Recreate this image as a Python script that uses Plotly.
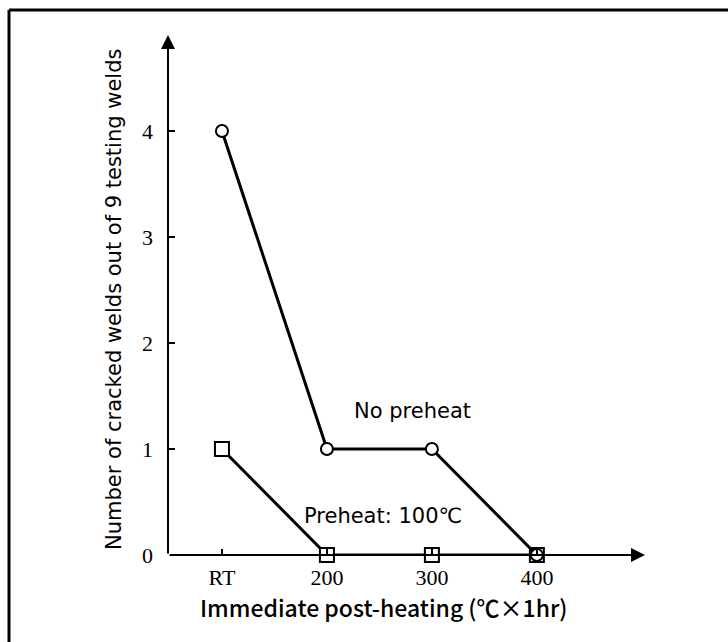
import plotly.graph_objects as go

# Post-heating conditions and crack counts (out of 9 welds)
categories = ["RT", "200", "300", "400"]
no_preheat = [4, 1, 1, 0]
preheat_100 = [1, 0, 0, 0]
y_ticks = [0, 1, 2, 3, 4]

W, H = 728, 642
L, R, T, B = 168, 83, 35, 87
plot_w = W - L - R
plot_h = H - T - B


def px_x(px):
    return (px - L) / plot_w


def px_y(py):
    return 1 - (py - T) / plot_h


x_pos = list(range(len(categories)))
x_min, x_max = -0.514, 4.03
y_min, y_max = 0, 4.906

fig = go.Figure()

fig.add_trace(go.Scatter(
    x=x_pos, y=preheat_100, mode="lines+markers",
    line=dict(color="black", width=3),
    marker=dict(symbol="square", size=14, color="white",
                line=dict(color="black", width=2)),
    cliponaxis=False, showlegend=False, name="Preheat: 100℃",
))
fig.add_trace(go.Scatter(
    x=x_pos, y=no_preheat, mode="lines+markers",
    line=dict(color="black", width=3),
    marker=dict(symbol="circle", size=12, color="white",
                line=dict(color="black", width=2)),
    cliponaxis=False, showlegend=False, name="No preheat",
))

# Axis arrows
fig.add_annotation(x=x_min, y=y_max, ax=x_min, ay=0, xref="x", yref="y",
                   axref="x", ayref="y", showarrow=True, arrowhead=2,
                   arrowsize=1.4, arrowwidth=2, arrowcolor="black", text="")
fig.add_annotation(x=x_max, y=0, ax=x_min, ay=0, xref="x", yref="y",
                   axref="x", ayref="y", showarrow=True, arrowhead=2,
                   arrowsize=1.4, arrowwidth=2, arrowcolor="black", text="")


def add_text(px, py, text, font, angle=0):
    fig.add_annotation(x=px_x(px), y=px_y(py), xref="paper", yref="paper",
                       xanchor="center", yanchor="middle", text=text,
                       textangle=angle, showarrow=False, font=font)


# Series labels
label_font = dict(family="DejaVu Sans, Noto Sans CJK JP", size=21, color="black")
add_text(412, 411, "No preheat", label_font)
add_text(383, 516, "Preheat: 100℃", label_font)

# Axis titles
add_text(384, 607, "Immediate post-heating (℃×1hr)",
         dict(family="Noto Sans CJK JP", size=23, color="black", weight=500))
add_text(114, 300, "Number of cracked welds out of 9 testing welds",
         dict(family="DejaVu Sans", size=21, color="black"), angle=-90)

# Outer frame (left and top edges)
fx = px_x(9)
fy = px_y(10)
fig.add_shape(type="line", xref="paper", yref="paper", x0=fx, x1=fx,
              y0=fy, y1=-1, line=dict(color="black", width=3))
fig.add_shape(type="line", xref="paper", yref="paper", x0=fx, x1=2,
              y0=fy, y1=fy, line=dict(color="black", width=3))

tick_font = dict(family="Liberation Serif", size=22, color="black")

fig.update_layout(
    width=W, height=H,
    margin=dict(l=L, r=R, t=T, b=B),
    plot_bgcolor="white", paper_bgcolor="white",
    xaxis=dict(
        range=[x_min, x_max], tickvals=x_pos, ticktext=categories,
        showgrid=False, zeroline=False, showline=False,
        ticks="inside", ticklen=6, tickwidth=1.5, tickcolor="black",
        tickfont=tick_font, ticklabelstandoff=7,
    ),
    yaxis=dict(
        range=[y_min, y_max], tickvals=y_ticks,
        showgrid=False, zeroline=False, showline=False,
        ticks="inside", ticklen=7, tickwidth=1.5, tickcolor="black",
        tickfont=tick_font, ticklabelstandoff=14,
    ),
)

fig.write_html("out.html")
